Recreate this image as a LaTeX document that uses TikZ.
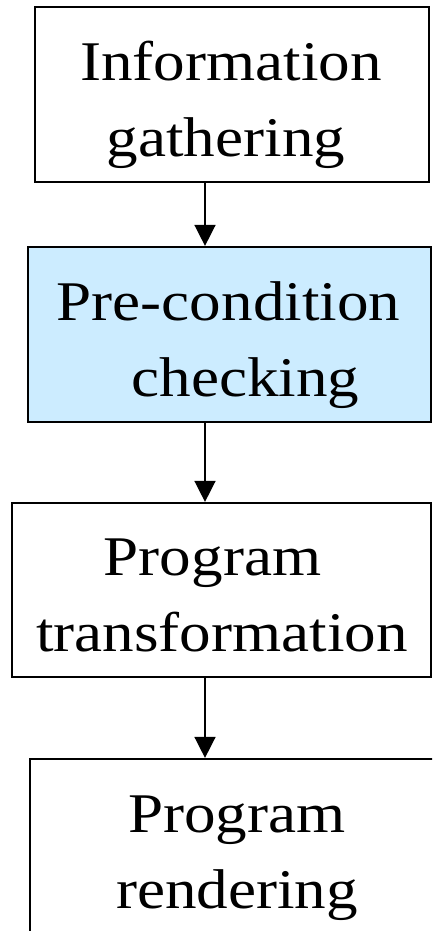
\documentclass[tikz,border=0pt]{standalone}
\usepackage{fontspec}
\setmainfont{Liberation Serif}[FakeStretch=1.127]
\usetikzlibrary{arrows.meta}
\definecolor{stageblue}{RGB}{204,236,255}
\tikzset{
  stage/.style={draw=black, line width=2.2pt, rectangle, inner sep=0pt},
  stagetext/.style={align=center, inner sep=0pt, font=\fontsize{56}{76}\selectfont},
  flow/.style={line width=1.5pt, -{Triangle[width=21pt,length=21pt]}}
}
\begin{document}
\begin{tikzpicture}[x=1pt,y=-1pt]
\useasboundingbox (0,0) rectangle (432,931);
\clip (0,0) rectangle (432,931);
\fill[white] (0,0) rectangle (432,931);

% stage boxes
\node[stage, minimum width=394pt, minimum height=175pt] (b1) at (232,94.5) {};
\node[stage, fill=stageblue, minimum width=403pt, minimum height=175pt] (b2) at (229.5,334.5) {};
\node[stage, minimum width=419pt, minimum height=174pt] (b3) at (221.5,590) {};
\node[stage, minimum width=414pt, minimum height=175pt] (b4) at (237,846.5) {};

% stage labels
\node[stagetext] (t1) at (231,103) {\strut Information\\\strut gathering\hspace*{10pt}};
\node[stagetext] (t2) at (228.5,343) {\strut Pre-condition\\\strut\hspace*{34pt}checking};
\node[stagetext] (t3) at (222,598) {\strut Program\hspace*{19pt}\\\strut transformation};
\node[stagetext] (t4) at (237,855.5) {\strut Program\\\strut rendering};

% flow arrows
\coordinate (ax) at (205,0);
\draw[flow] (b1.south -| ax) -- (b2.north -| ax);
\draw[flow] (b2.south -| ax) -- (b3.north -| ax);
\draw[flow] (b3.south -| ax) -- (b4.north -| ax);
\end{tikzpicture}
\end{document}
